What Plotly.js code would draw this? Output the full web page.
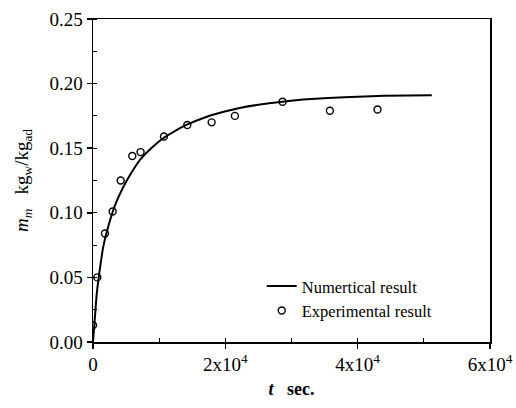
<!DOCTYPE html>
<html>
<head>
<meta charset="utf-8">
<script src="https://cdn.plot.ly/plotly-3.0.1.min.js"></script>
<style>html,body{margin:0;padding:0;background:#fff;}#chart{width:516px;height:408px;}</style>
</head>
<body>
<div id="chart"></div>
<script>
// Numerical result (curve)
const numT = [0, 300, 560, 1000, 1560, 2570, 3500, 4580, 5800, 7100, 8800, 10600, 12300, 14100, 17000, 19600, 22000, 24700, 28600, 33000, 38000, 44000, 51200];
const numM = [0.0, 0.020, 0.037, 0.055, 0.074, 0.094, 0.108, 0.120, 0.131, 0.141, 0.150, 0.1577, 0.163, 0.168, 0.174, 0.178, 0.181, 0.1834, 0.186, 0.188, 0.1895, 0.1905, 0.191];
// Experimental result
const expT = [0, 650, 1810, 2970, 4180, 5940, 7190, 10725, 14250, 17930, 21450, 28650, 35800, 43000];
const expM = [0.013, 0.050, 0.084, 0.101, 0.125, 0.144, 0.147, 0.159, 0.168, 0.170, 0.175, 0.186, 0.179, 0.180];
// Axis ticks
const xTickVals = [0, 20000, 40000, 60000];
const xTickText = ['0', '2x10<sup>4</sup>', '4x10<sup>4</sup>', '6x10<sup>4</sup>'];
const yTickVals = [0, 0.05, 0.10, 0.15, 0.20, 0.25];
const yTickText = ['0.00', '0.05', '0.10', '0.15', '0.20', '0.25'];

const serif = '"Liberation Serif", "Times New Roman", serif';

const traces = [
  {x: numT, y: numM, mode: 'lines', name: 'Numertical result',
   line: {color: '#000', width: 2, shape: 'spline', smoothing: 0.6}},
  {x: expT, y: expM, mode: 'markers', name: 'Experimental result',
   marker: {symbol: 'circle-open', size: 7, color: '#000', line: {width: 1.4, color: '#000'}}}
];

const layout = {
  width: 516, height: 408,
  margin: {l: 93, r: 26, t: 19, b: 66},
  paper_bgcolor: '#fff', plot_bgcolor: '#fff',
  font: {family: serif, color: '#000', size: 19},
  showlegend: true,
  legend: {x: 0.425, y: 0.135, xanchor: 'left', yanchor: 'middle',
           font: {family: serif, size: 16.5, color: '#000'},
           bgcolor: 'rgba(0,0,0,0)', tracegroupgap: 0, itemwidth: 30},
  xaxis: {
    range: [0, 60000], tickvals: xTickVals, ticktext: xTickText,
    showgrid: false, zeroline: false, showline: true, linecolor: '#000', linewidth: 1.5,
    mirror: true, ticks: 'outside', ticklen: 5, tickwidth: 1.5, tickcolor: '#000',
    tickfont: {family: serif, size: 19, color: '#000'},
    minor: {dtick: 10000, tick0: 0, ticks: 'inside', ticklen: 4, tickwidth: 1, tickcolor: '#000'},
    title: {text: '<b><i>t</i></b>   <b>sec.</b>', font: {family: serif, size: 18, color: '#000'}, standoff: 8}
  },
  yaxis: {
    range: [0, 0.25], tickvals: yTickVals, ticktext: yTickText,
    showgrid: false, zeroline: false, showline: true, linecolor: '#000', linewidth: 1.5,
    mirror: true, ticks: 'outside', ticklen: 5, tickwidth: 1.5, tickcolor: '#000',
    tickfont: {family: serif, size: 19, color: '#000'},
    minor: {dtick: 0.025, tick0: 0, ticks: 'inside', ticklen: 4, tickwidth: 1, tickcolor: '#000'},
    title: {text: '<i>m</i><sub><i>m</i></sub>   kg<sub>w</sub>/kg<sub>ad</sub>', font: {family: serif, size: 19, color: '#000'}, standoff: 16}
  }
};

Plotly.newPlot('chart', traces, layout, {displayModeBar: false, staticPlot: true});
</script>
</body>
</html>
